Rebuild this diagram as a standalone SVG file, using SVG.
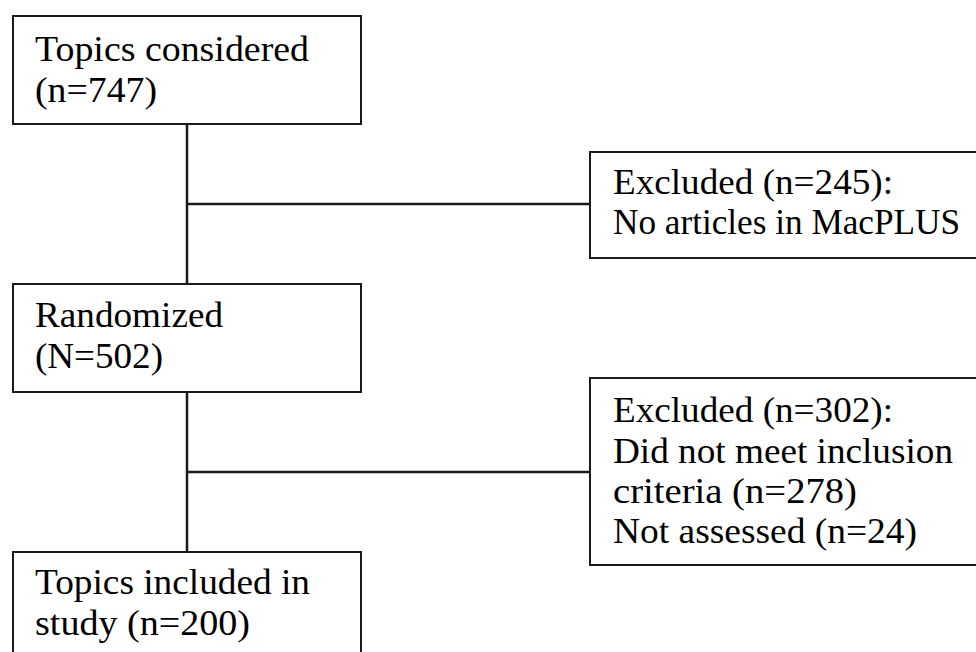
<svg xmlns="http://www.w3.org/2000/svg" width="976" height="652" viewBox="0 0 976 652">
<style>
.box{fill:#fff;stroke:#1a1a1a;stroke-width:2}
.ln{stroke:#1a1a1a;stroke-width:2.5;fill:none}
text{font-family:"Liberation Serif","DejaVu Serif",serif;font-size:35px;fill:#000}
</style>
<rect width="976" height="652" fill="#fff"/>
<g id="connectors">
<line class="ln" x1="187" y1="124" x2="187" y2="284"/>
<line class="ln" x1="187" y1="204" x2="590" y2="204"/>
<line class="ln" x1="187" y1="392" x2="187" y2="552"/>
<line class="ln" x1="187" y1="472" x2="590" y2="472"/>
</g>
<g id="n1">
<rect class="box" x="13" y="16" width="348" height="108"/>
<text x="35" y="61" textLength="274" lengthAdjust="spacingAndGlyphs">Topics considered</text>
<text x="35" y="102" textLength="122" lengthAdjust="spacingAndGlyphs">(n=747)</text>
</g>
<g id="n2">
<rect class="box" x="590" y="152" width="400" height="106"/>
<text x="613" y="194" textLength="280" lengthAdjust="spacingAndGlyphs">Excluded (n=245):</text>
<text x="613" y="234" textLength="347" lengthAdjust="spacingAndGlyphs">No articles in MacPLUS</text>
</g>
<g id="n3">
<rect class="box" x="13" y="284" width="348" height="108"/>
<text x="35" y="327" textLength="188" lengthAdjust="spacingAndGlyphs">Randomized</text>
<text x="35" y="368" textLength="128" lengthAdjust="spacingAndGlyphs">(N=502)</text>
</g>
<g id="n4">
<rect class="box" x="590" y="378" width="400" height="187"/>
<text x="613" y="422" textLength="280" lengthAdjust="spacingAndGlyphs">Excluded (n=302):</text>
<text x="613" y="463" textLength="340" lengthAdjust="spacingAndGlyphs">Did not meet inclusion</text>
<text x="613" y="503" textLength="244" lengthAdjust="spacingAndGlyphs">criteria (n=278)</text>
<text x="613" y="543" textLength="304" lengthAdjust="spacingAndGlyphs">Not assessed (n=24)</text>
</g>
<g id="n5">
<rect class="box" x="13" y="552" width="348" height="120"/>
<text x="35" y="594" textLength="275" lengthAdjust="spacingAndGlyphs">Topics included in</text>
<text x="35" y="635" textLength="215" lengthAdjust="spacingAndGlyphs">study (n=200)</text>
</g>
</svg>
